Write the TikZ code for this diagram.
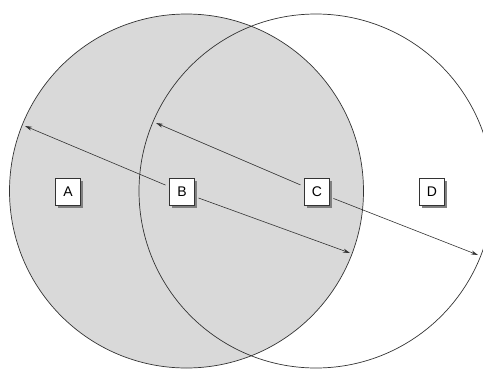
\documentclass[tikz,border=0pt]{standalone}
\usepackage{fontspec}
\setmainfont{Liberation Sans}
\usetikzlibrary{arrows.meta,shadows}
\definecolor{Fill}{HTML}{D9D9D9}
\definecolor{Ink}{HTML}{333333}
\definecolor{Shade}{HTML}{808080}

\begin{document}
\begin{tikzpicture}[x=1pt,y=-1pt,
      zone/.style={draw=Ink,line width=0.7pt},
      tag/.style={rectangle,draw=Ink,line width=0.5pt,fill=white,minimum width=25pt,
        minimum height=27pt,inner sep=0pt,outer sep=4pt,font=\fontsize{14}{16}\selectfont,
        drop shadow={shadow xshift=2pt,shadow yshift=-2pt,fill=Shade,opacity=1}},
      ray/.style={Ink,line width=0.6pt,-{Stealth[length=7pt,width=4pt]}}
    ]
      \useasboundingbox (0,0) rectangle (483,370);
      % the two circles
      \begin{scope}
        \clip (0,0) rectangle (483,370);
        \fill[Fill] (186.5,191) circle[radius=177];
        \draw[zone] (186.5,191) circle[radius=177];
        \draw[zone] (316,191) circle[radius=177];
      \end{scope}
      % labels
      \node[tag] (A) at (68,192) {A};
      \node[tag] (B) at (182,192) {B};
      \node[tag] (C) at (317,192) {C};
      \node[tag] (D) at (432,192) {D};
      % arrow ends on the circles
      \coordinate (b1) at (25,126);
      \coordinate (b2) at (350,253);
      \coordinate (c1) at (156,123);
      \coordinate (c2) at (478,255);
      \draw[ray] (B) -- (b1);
      \draw[ray] (B) -- (b2);
      \draw[ray] (C) -- (c1);
      \draw[ray] (C) -- (c2);
    \end{tikzpicture}
\end{document}
